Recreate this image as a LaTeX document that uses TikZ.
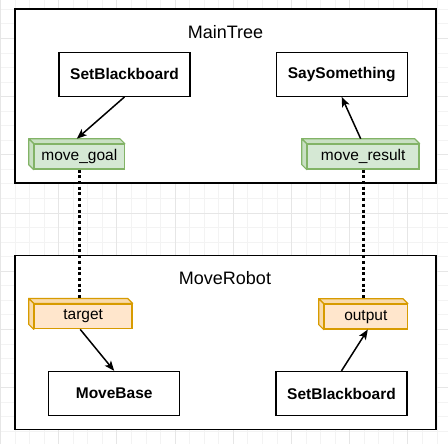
\documentclass[tikz,border=0pt]{standalone}
\usepackage{fontspec}
\setmainfont{Liberation Sans}
\usepackage{tikz}
\usetikzlibrary{
	arrows.meta,
	positioning,
	calc
}
\usepackage{xcolor}

\definecolor{goalfill}{HTML}{D5E8D4}
\definecolor{goaldraw}{HTML}{82B366}
\definecolor{portfill}{HTML}{FFE6CC}
\definecolor{portdraw}{HTML}{D79B00}
\definecolor{gridminor}{HTML}{F3F3F3}
\definecolor{gridmajor}{HTML}{E6E6E6}

\begin{document}
\begin{tikzpicture}[
		x=1pt, y=-1pt,
		>={Stealth[length=10pt,width=8pt,inset=2.5pt]},
		tree/.style={
			draw,
			line width=1.5pt,
			fill=white,
			minimum width=421,
			minimum height=174
		},
		treetitle/.style={
			inner sep=0pt,
			font=\fontsize{18}{20}\selectfont
		},
		action/.style={
			draw,
			line width=1.3pt,
			fill=white,
			minimum width=131,
			minimum height=44,
			inner sep=0pt,
			font=\fontsize{15.5}{18}\selectfont\bfseries
		},
		port/.style={
			draw=#1draw,
			fill=#1fill,
			line width=1.2pt,
			minimum height=24.7,
			inner sep=0pt,
			font=\fontsize{15.5}{18}\selectfont
		},
		side/.style={
			draw=#1draw,
			fill=#1fill!85!#1draw,
			line width=1.2pt,
			line join=round
		},
		link/.style={
			->,
			line width=1.5pt
		},
		remap/.style={
			line width=3pt,
			dash pattern=on 3pt off 2.7pt
		}
		]
		
		\useasboundingbox (0,0) rectangle (448,444);
		
		% Grid
		\foreach \k in {-1,...,30}
		\draw[color=gridminor, line width=0.8pt] (15+14.55*\k,0) -- (15+14.55*\k,444);
		\foreach \k in {-1,...,30}
		\draw[color=gridminor, line width=0.8pt] (0,9.3+14.55*\k) -- (448,9.3+14.55*\k);
		\foreach \k in {-1,3,...,27}
		\draw[color=gridmajor, line width=0.8pt] (15+14.55*\k,0) -- (15+14.55*\k,444);
		\foreach \k in {-2,2,...,30}
		\draw[color=gridmajor, line width=0.8pt] (0,9.3+14.55*\k) -- (448,9.3+14.55*\k);
		
		% MainTree
		\node[tree] (maintree) at (225.5,96.2) {};
		\node[treetitle] (maintitle) at (225.5,32) {MainTree};
		\node[action] (setbbA) at (124.5,74.3) {SetBlackboard};
		\node[action] (say) at (341.7,74.3) {SaySomething};
		\node[port=goal, minimum width=90] (goal) at (79.3,156.7) {move\_goal};
		\node[port=goal, minimum width=111.7] (result) at (363.2,156.7) {move\_result};
		
		% MoveRobot
		\node[tree] (moverobot) at (225.5,342.6) {};
		\node[treetitle] (robottitle) at (225,278.5) {MoveRobot};
		\node[action] (movebase) at (114.2,393.5) {MoveBase};
		\node[action] (setbbB) at (341.5,393.5) {SetBlackboard};
		\node[port=port, minimum width=97.7] (target) at (83.2,316.4) {target};
		\node[port=port, minimum width=83] (output) at (365.8,316.6) {output};
		
		% Cube sides of the ports
		\foreach \n/\c in {goal/goal,result/goal,target/port,output/port}
		{
			\draw[side=\c]
			(\n.north west) -- ++(-5pt,5pt)
			-- ([xshift=-5pt,yshift=5pt]\n.north east)
			-- (\n.north east) -- cycle;
			
			\draw[side=\c]
			(\n.north west) -- ++(-5pt,5pt)
			-- ([xshift=-5pt,yshift=5pt]\n.south west)
			-- (\n.south west) -- cycle;
		}
		
		\coordinate (goaltop) at ([xshift=-2.5pt,yshift=5pt]goal.north);
		\coordinate (resulttop) at ([xshift=-2.5pt,yshift=5pt]result.north);
		\coordinate (targettop) at ([yshift=5pt]target.north);
		\coordinate (outputtop) at ([yshift=5pt]output.north);
		
		% Connections
		\draw[link] (setbbA.south) -- (goaltop);
		\draw[link] (resulttop) -- (say.south);
		\draw[link] ([xshift=-3pt]target.south) -- (movebase.north);
		\draw[link] (setbbB.north) -- ([xshift=2pt]output.south);
		
		% Remapping
		\draw[remap] (goal.south) -- (goal.south |- targettop);
		\draw[remap] (result.south) -- (result.south |- outputtop);
		
	\end{tikzpicture}
\end{document}
